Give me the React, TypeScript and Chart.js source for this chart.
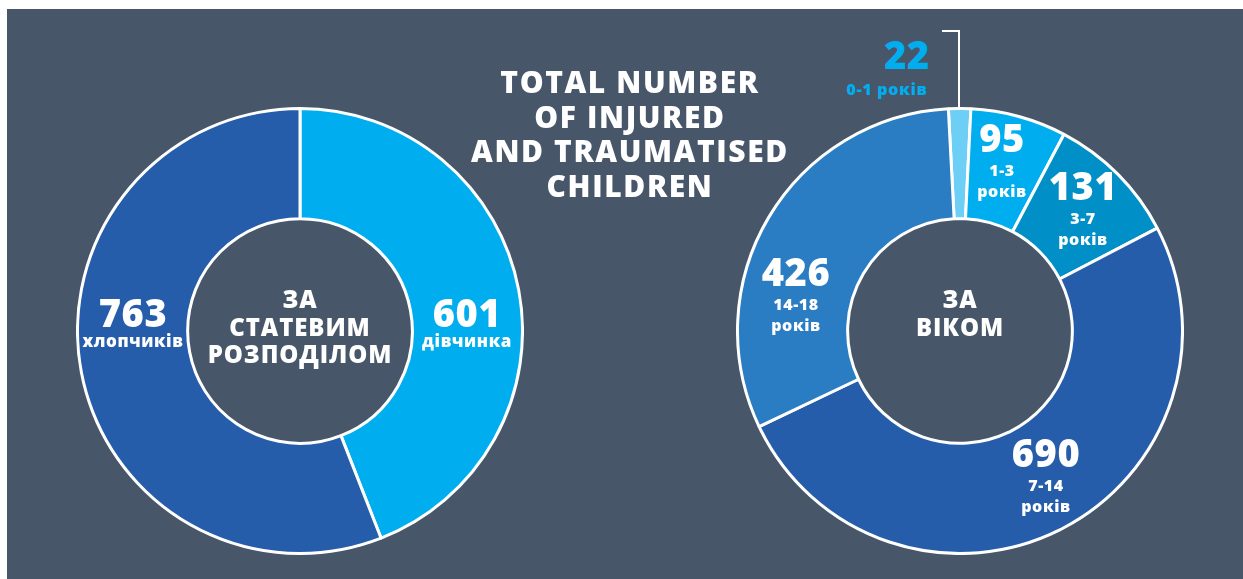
import React, { useEffect, useRef } from "react";
import { Chart, registerables } from "chart.js";

Chart.register(...registerables);

// ---- data ----
const genderLabels = ["дівчинка", "хлопчиків"];
const genderValues = [601, 763];
const genderColors = ["#00aeef", "#265dab"];

const ageRanges = ["0-1", "1-3", "3-7", "7-14", "14-18"];
const ageValues = [22, 95, 131, 690, 426];
const ageColors = ["#6dcff6", "#00aeef", "#0090c7", "#265dab", "#2a7cc3"];
const ageUnit = "років";

const titleLines = ["TOTAL NUMBER", "OF INJURED", "AND TRAUMATISED", "CHILDREN"];
const genderCenter = ["ЗА", "СТАТЕВИМ", "РОЗПОДІЛОМ"];
const ageCenter = ["ЗА", "ВІКОМ"];

// ---- layout ----
const BG = "#475669";
const FONT = "'Open Sans', 'DejaVu Sans', sans-serif";
const SIZE = 448;
const leftCenter = { x: 300, y: 331 };
const rightCenter = { x: 960, y: 331 };

const genderLabelPos = [
  { x: 467, y: 313 },
  { x: 133, y: 313 },
];
const ageLabelPos = [
  { x: 907, y: 55, inline: true },
  { x: 1002, y: 138 },
  { x: 1083, y: 186 },
  { x: 1046, y: 453 },
  { x: 796, y: 272 },
];

function Donut(props: {
  values: number[];
  labels: string[];
  colors: string[];
  rotation: number;
  cx: number;
  cy: number;
}) {
  const ref = useRef<HTMLCanvasElement | null>(null);
  useEffect(() => {
    if (!ref.current) return;
    const chart = new Chart(ref.current, {
      type: "doughnut",
      data: {
        labels: props.labels,
        datasets: [
          {
            data: props.values,
            backgroundColor: props.colors,
            borderColor: "#ffffff",
            borderWidth: 3,
          },
        ],
      },
      options: {
        animation: false,
        responsive: false,
        cutout: "50.5%",
        rotation: props.rotation,
        layout: { padding: 0 },
        plugins: { legend: { display: false }, tooltip: { enabled: false } },
        events: [],
      },
    });
    return () => chart.destroy();
  }, []);
  return (
    <canvas
      ref={ref}
      width={SIZE}
      height={SIZE}
      style={{
        position: "absolute",
        left: props.cx - SIZE / 2,
        top: props.cy - SIZE / 2,
        width: SIZE,
        height: SIZE,
      }}
    />
  );
}

function Txt(props: {
  x: number;
  y: number;
  size: number;
  color?: string;
  children: React.ReactNode;
  lh?: number;
  ls?: number;
}) {
  return (
    <div
      style={{
        position: "absolute",
        left: props.x,
        top: props.y,
        transform: "translate(-50%, -50%)",
        fontFamily: FONT,
        fontWeight: 800,
        fontSize: props.size,
        lineHeight: (props.lh ?? props.size * 1.1) + "px",
        letterSpacing: (props.ls ?? 0) + "px",
        color: props.color ?? "#ffffff",
        textAlign: "center",
        whiteSpace: "nowrap",
      }}
    >
      {props.children}
    </div>
  );
}

export default function App() {
  return (
    <div
      style={{
        position: "absolute",
        left: 0,
        top: 0,
        width: 1243,
        height: 579,
        background: "#ffffff",
        overflow: "hidden",
      }}
    >
      <div
        style={{
          position: "absolute",
          left: 7,
          top: 9,
          width: 1236,
          height: 570,
          background: BG,
        }}
      />
      <Donut
        values={genderValues}
        labels={genderLabels}
        colors={genderColors}
        rotation={0}
        cx={leftCenter.x}
        cy={leftCenter.y}
      />
      <Donut
        values={ageValues}
        labels={ageRanges.map((r) => r + " " + ageUnit)}
        colors={ageColors}
        rotation={-3}
        cx={rightCenter.x}
        cy={rightCenter.y}
      />

      {/* title */}
      <Txt x={630} y={134} size={30} lh={34.7} ls={1.6}>
        {titleLines.map((l, i) => (
          <div key={i}>{l}</div>
        ))}
      </Txt>

      {/* centers */}
      <Txt x={leftCenter.x} y={leftCenter.y - 5} size={24} lh={27.5} ls={0.9}>
        {genderCenter.map((l, i) => (
          <div key={i}>{l}</div>
        ))}
      </Txt>
      <Txt x={rightCenter.x} y={rightCenter.y - 19} size={24} lh={27.5} ls={0.9}>
        {ageCenter.map((l, i) => (
          <div key={i}>{l}</div>
        ))}
      </Txt>

      {/* gender labels */}
      {genderValues.map((v, i) => (
        <React.Fragment key={"g" + i}>
          <Txt x={genderLabelPos[i].x} y={genderLabelPos[i].y} size={38} ls={0.5}>
            {String(v)}
          </Txt>
          <Txt x={genderLabelPos[i].x} y={genderLabelPos[i].y + 28} size={17} ls={0.6}>
            {genderLabels[i]}
          </Txt>
        </React.Fragment>
      ))}

      {/* age labels */}
      {ageValues.map((v, i) => {
        const p = ageLabelPos[i];
        const color = p.inline ? ageColors[1] : "#ffffff";
        return (
          <React.Fragment key={"a" + i}>
            <Txt x={p.x} y={p.y} size={38} color={color} ls={0.5}>
              {String(v)}
            </Txt>
            {p.inline ? (
              <Txt x={p.x - 20} y={p.y + 35} size={16} color={color} ls={0.7}>
                {ageRanges[i] + " " + ageUnit}
              </Txt>
            ) : (
              <Txt x={p.x} y={p.y + 43} size={16} lh={21} ls={0.6}>
                <div>{ageRanges[i]}</div>
                <div>{ageUnit}</div>
              </Txt>
            )}
          </React.Fragment>
        );
      })}

      {/* leader line for smallest slice */}
      <div
        style={{
          position: "absolute",
          left: 942,
          top: 30,
          width: 16,
          height: 77,
          borderTop: "2px solid #ffffff",
          borderRight: "2px solid #ffffff",
        }}
      />
    </div>
  );
}
